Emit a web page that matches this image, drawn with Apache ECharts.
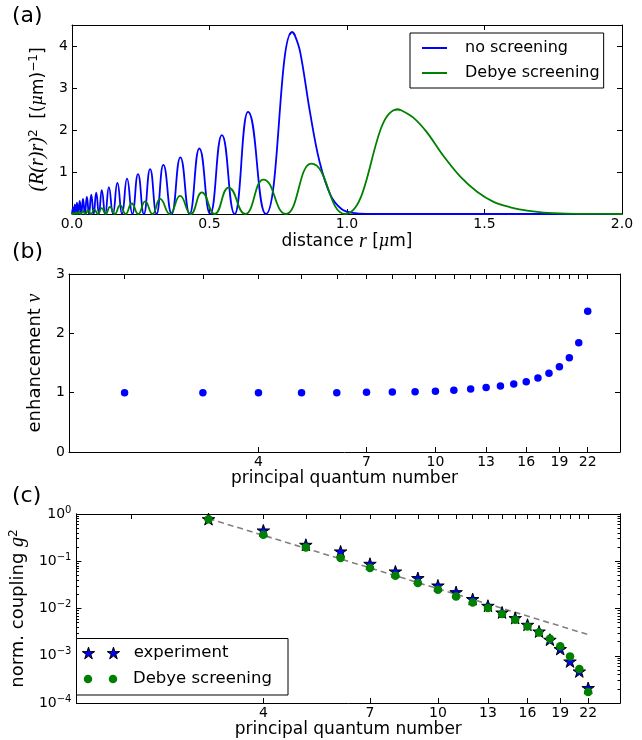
<!DOCTYPE html>
<html>
<head>
<meta charset="utf-8">
<script src="https://cdn.jsdelivr.net/npm/echarts@6.0.0/dist/echarts.min.js"></script>
<style>
html,body{margin:0;padding:0;background:#ffffff;}
#chart{width:642px;height:740px;}
</style>
</head>
<body>
<div id="chart"></div>
<script>
// ---------------- Panel (a): (R(r) r)^2 vs distance r [um] ----------------
// oscillating part: alternating nodes (0) and maxima
const noScreeningLobes = [
  [0,0],[0.004,0.15],[0.0066,0],[0.010,0.22],[0.0137,0],[0.018,0.27],[0.0227,0],
  [0.028,0.31],[0.0337,0],[0.040,0.36],[0.0467,0],[0.054,0.41],[0.0618,0],
  [0.070,0.46],[0.079,0],[0.088,0.51],[0.098,0],[0.108,0.57],[0.121,0],
  [0.134,0.64],[0.149,0],[0.165,0.74],[0.182,0],[0.200,0.84],[0.2195,0],
  [0.240,0.95],[0.2616,0],[0.284,1.07],[0.3075,0],[0.332,1.17],[0.3624,0],
  [0.394,1.35],[0.4277,0],[0.463,1.56],[0.5027,0],[0.545,1.88],[0.5914,0],
  [0.640,2.43],[0.705,0],[0.800,4.33],[0.81,4.26]
];
// outer tail, starting just before the last maximum
const noScreeningTail = [
  [0.79,4.26],[0.800,4.33],[0.81,4.26],[0.83,3.85],[0.866,2.4],[0.90,1.25],[0.94,0.45],
  [0.98,0.12],[1.02,0.025],[1.08,0.003],[1.2,0],[2.0,0]
];
const debyeLobes = [
  [0,0],[0.0012,0.01],[0.003,0],[0.0056,0.025],[0.0091,0],[0.0135,0.04],[0.0188,0],
  [0.025,0.055],[0.032,0],[0.040,0.07],[0.049,0],[0.0585,0.09],[0.069,0],
  [0.081,0.11],[0.094,0],[0.108,0.14],[0.1225,0],[0.138,0.17],[0.156,0],
  [0.175,0.21],[0.195,0],[0.217,0.25],[0.241,0],[0.266,0.30],[0.293,0],
  [0.320,0.36],[0.356,0],[0.393,0.43],[0.432,0],[0.472,0.515],[0.519,0],
  [0.569,0.63],[0.630,0],[0.696,0.82],[0.778,0],[0.870,1.20],[0.993,0],[1.184,2.49],[1.194,2.48]
];
const debyeTail = [
  [1.174,2.48],[1.184,2.49],[1.194,2.48],[1.24,2.30],[1.29,1.95],[1.351,1.38],[1.412,0.89],
  [1.473,0.53],[1.533,0.29],[1.594,0.16],[1.655,0.08],[1.715,0.035],[1.8,0.01],[1.9,0.002],[2.0,0]
];

// ---------------- Panel (b): enhancement vs principal quantum number ----------------
const nB = [2,3,4,5,6,7,8,9,10,11,12,13,14,15,16,17,18,19,20,21,22];
const enhancement = [1.00,1.00,1.00,1.00,1.00,1.005,1.01,1.015,1.025,1.04,1.06,1.085,1.113,1.147,1.186,1.249,1.328,1.435,1.588,1.842,2.373];

// ---------------- Panel (c): normalised coupling g^2 ----------------
const nC = [3,4,5,6,7,8,9,10,11,12,13,14,15,16,17,18,19,20,21,22];
const gExperiment = [0.78,0.45,0.224,0.162,0.0887,0.061,0.0442,0.0308,0.0223,0.0159,0.01146,0.00826,0.0063,0.00454,0.00327,0.00219,0.00139,0.00076,0.000467,0.000208];
const gDebye = [0.77,0.365,0.196,0.117,0.072,0.0494,0.0347,0.025,0.018,0.01346,0.01025,0.00765,0.0058,0.00418,0.00312,0.0023,0.00158,0.00097,0.000525,0.000171];
const scalingN = [3, 22];
const scalingG = [0.8, 0.0028];

// tick values
const nTickLabels = [4,7,10,13,16,19,22];
const nTopTicks = [2,3,4,5,6,7,8,9,10,11,12,13,14,15,16,17,18,19,20,21,22];
const gMinorTicks = [];
[0.0001,0.001,0.01,0.1].forEach(function(d){ for (let m = 2; m <= 9; m++) gMinorTicks.push(+(m*d).toPrecision(3)); });

// ---------------- helpers ----------------
const FONT = 'DejaVu Sans';
const BLUE = '#0000ff', GREEN = '#008000', BLACK = '#000000';
const STAR = 'path://M100,0L122.45,69.1L195.1,69.1L136.33,111.8L158.8,180.9L100,138.2L41.2,180.9L63.67,111.8L4.9,69.1L77.55,69.1Z';
const STARS2 = 'path://M100,0L122.45,69.1L195.1,69.1L136.33,111.8L158.8,180.9L100,138.2L41.2,180.9L63.67,111.8L4.9,69.1L77.55,69.1Z' +
  'M486,0L508.45,69.1L581.1,69.1L522.33,111.8L544.8,180.9L486,138.2L427.2,180.9L449.67,111.8L390.9,69.1L463.55,69.1Z';
const CIRCLES2 = 'path://M0,100A100,100,0,1,1,200,100A100,100,0,1,1,0,100ZM588,100A100,100,0,1,1,788,100A100,100,0,1,1,588,100Z';

function clean(o) {
  if (Array.isArray(o)) return o.map(clean);
  if (o && typeof o === 'object') {
    const r = {};
    Object.keys(o).forEach(function(k){ if (o[k] !== undefined) r[k] = clean(o[k]); });
    return r;
  }
  return o;
}
function axis(o) {
  return clean({
    gridIndex: o.grid, type: o.type || 'value', position: o.pos,
    min: o.min, max: o.max, interval: o.interval, logBase: o.type === 'log' ? 10 : undefined,
    axisLine: {show: true, onZero: false, lineStyle: {color: BLACK, width: 1}},
    axisTick: {show: o.tickShow !== false, inside: true, length: o.tickLen || 5, customValues: o.ticks,
               lineStyle: {color: BLACK, width: 1}},
    axisLabel: {show: !!o.labels, customValues: o.labelValues, color: BLACK, fontSize: 14, fontFamily: FONT,
                margin: o.margin == null ? 4 : o.margin, formatter: o.fmt, rich: o.rich},
    splitLine: {show: false},
    name: o.name, nameLocation: o.name ? 'middle' : undefined, nameGap: o.nameGap, nameTextStyle: o.nameStyle
  });
}
const mathRich = {
  i: {fontFamily: 'Liberation Serif', fontStyle: 'italic', fontSize: 20, color: BLACK},
  mu: {fontFamily: 'DejaVu Serif', fontStyle: 'italic', fontSize: 16, color: BLACK},
  s: {fontFamily: FONT, fontSize: 12, lineHeight: 12, verticalAlign: 'top', color: BLACK}
};
function nameStyle(size) {
  return {fontFamily: FONT, fontSize: size, color: BLACK, rich: mathRich};
}
const supRich = {
  b: {fontFamily: FONT, fontSize: 14, lineHeight: 18, color: BLACK},
  e: {fontFamily: FONT, fontSize: 10, lineHeight: 10, verticalAlign: 'top', color: BLACK}
};

const chart = echarts.init(document.getElementById('chart'), null, {renderer: 'canvas'});

const option = {
  animation: false,
  backgroundColor: '#ffffff',
  grid: [
    {left: 72, top: 25, width: 550, height: 189},
    {left: 69, top: 274, width: 551, height: 178},
    {left: 68, top: 514, width: 552, height: 189}
  ],
  xAxis: [
    axis({grid: 0, pos: 'bottom', min: 0, max: 2, interval: 0.5, labels: true, margin: 3,
          fmt: function(v){ return v.toFixed(1); },
          name: 'distance {i|r} [{mu|μ}m]', nameGap: 17, nameStyle: nameStyle(17)}),
    axis({grid: 0, pos: 'top', min: 0, max: 2, interval: 0.5}),
    axis({grid: 1, type: 'log', pos: 'bottom', min: 1.5, max: 26, labels: true, margin: 3,
          ticks: nTickLabels, labelValues: nTickLabels,
          name: 'principal quantum number', nameGap: 18, nameStyle: nameStyle(17)}),
    axis({grid: 1, type: 'log', pos: 'top', min: 1.5, max: 26, ticks: nTopTicks}),
    axis({grid: 2, type: 'log', pos: 'bottom', min: 1.5, max: 26, labels: true, margin: 3,
          ticks: nTickLabels, labelValues: nTickLabels,
          name: 'principal quantum number', nameGap: 18, nameStyle: nameStyle(17)}),
    axis({grid: 2, type: 'log', pos: 'top', min: 1.5, max: 26, ticks: nTopTicks})
  ],
  yAxis: [
    axis({grid: 0, pos: 'left', min: 0, max: 4.5, interval: 1, labels: true, margin: 4,
          fmt: function(v){ return (v === 0 || v % 1 !== 0) ? '' : String(v); },
          name: '{i|(R(r)r)}{s|2}  [({mu|μ}m){s|−1}]', nameGap: 13, nameStyle: nameStyle(17)}),
    axis({grid: 0, pos: 'right', min: 0, max: 4.5, interval: 1}),
    axis({grid: 1, pos: 'left', min: 0, max: 3, interval: 1, labels: true, margin: 4,
          name: 'enhancement {i|ν}', nameGap: 6, nameStyle: nameStyle(18)}),
    axis({grid: 1, pos: 'right', min: 0, max: 3, interval: 1}),
    axis({grid: 2, type: 'log', pos: 'left', min: 0.0001, max: 1, labels: true, margin: 5,
          fmt: function(v){ const e = Math.round(Math.log10(v)); return '{b|10}{e|' + (e < 0 ? '−' + (-e) : e) + '}'; },
          rich: supRich,
          name: 'norm. coupling {i|g}{s|2}', nameGap: 33, nameStyle: nameStyle(18)}),
    axis({grid: 2, type: 'log', pos: 'right', min: 0.0001, max: 1}),
    axis({grid: 2, type: 'log', pos: 'left', min: 0.0001, max: 1, tickLen: 2.5, ticks: gMinorTicks}),
    axis({grid: 2, type: 'log', pos: 'right', min: 0.0001, max: 1, tickLen: 2.5, ticks: gMinorTicks})
  ],
  legend: [
    {data: [{name: 'no screening', icon: 'rect'}, {name: 'Debye screening', icon: 'rect'}],
     orient: 'vertical', left: 410, top: 33,
     padding: [5, 4, 5, 12], itemGap: 5, itemWidth: 25, itemHeight: 2,
     backgroundColor: '#ffffff', borderColor: BLACK, borderWidth: 1, borderRadius: 0, selectedMode: false,
     textStyle: {fontFamily: FONT, fontSize: 16, color: BLACK, lineHeight: 20, padding: [0, 0, 0, 13]}},
    {data: [{name: 'experiment', icon: STARS2}], orient: 'vertical', left: 81.85, top: 643, padding: 0,
     itemWidth: 37.3, itemHeight: 11.7, selectedMode: false,
     itemStyle: {borderColor: BLACK, borderWidth: 1, opacity: 1},
     textStyle: {fontFamily: FONT, fontSize: 16.5, color: BLACK, lineHeight: 20, padding: [0, 0, 0, 9]}},
    {data: [{name: 'Debye screening', icon: CIRCLES2}], orient: 'vertical', left: 83.75, top: 669, padding: 0,
     itemWidth: 33.5, itemHeight: 8.5, selectedMode: false,
     itemStyle: {color: GREEN, borderWidth: 0, opacity: 1},
     textStyle: {fontFamily: FONT, fontSize: 16.5, color: BLACK, lineHeight: 20, padding: [0, 0, 0, 10.75]}}
  ],
  graphic: [
    {type: 'text', left: 12, top: 5, style: {text: '(a)', font: '22px "DejaVu Sans"', fill: BLACK}},
    {type: 'text', left: 12, top: 241, style: {text: '(b)', font: '22px "DejaVu Sans"', fill: BLACK}},
    {type: 'text', left: 12, top: 485, style: {text: '(c)', font: '22px "DejaVu Sans"', fill: BLACK}},
    {type: 'rect', z: 3, shape: {x: 76.5, y: 638.5, width: 211.5, height: 56.5},
     style: {fill: '#ffffff', stroke: BLACK, lineWidth: 1}}
  ],
  series: [
    {name: 'no screening', type: 'line', xAxisIndex: 0, yAxisIndex: 0, data: noScreeningLobes,
     smooth: 0.5, smoothMonotone: 'x', symbol: 'none', lineStyle: {color: BLUE, width: 1.8}, itemStyle: {color: BLUE}},
    {name: 'no screening', type: 'line', xAxisIndex: 0, yAxisIndex: 0, data: noScreeningTail,
     smooth: 0.35, symbol: 'none', lineStyle: {color: BLUE, width: 1.8}, itemStyle: {color: BLUE}},
    {name: 'Debye screening', type: 'line', xAxisIndex: 0, yAxisIndex: 0, data: debyeLobes,
     smooth: 0.5, smoothMonotone: 'x', symbol: 'none', lineStyle: {color: GREEN, width: 1.8}, itemStyle: {color: GREEN}},
    {name: 'Debye screening', type: 'line', xAxisIndex: 0, yAxisIndex: 0, data: debyeTail,
     smooth: 0.35, symbol: 'none', lineStyle: {color: GREEN, width: 1.8}, itemStyle: {color: GREEN}},
    {type: 'scatter', xAxisIndex: 2, yAxisIndex: 2, symbol: 'circle', symbolSize: 7.5,
     data: nB.map(function(n, i){ return [n, enhancement[i]]; }), itemStyle: {color: BLUE, opacity: 1}},
    {type: 'line', xAxisIndex: 4, yAxisIndex: 4, symbol: 'none', z: 1,
     data: scalingN.map(function(n, i){ return [n, scalingG[i]]; }),
     lineStyle: {color: '#808080', width: 1.6, type: [6, 4]}},
    {name: 'experiment', type: 'scatter', xAxisIndex: 4, yAxisIndex: 4, symbol: STAR, symbolSize: 12.5,
     symbolKeepAspect: true, data: nC.map(function(n, i){ return [n, gExperiment[i]]; }),
     itemStyle: {color: BLUE, borderColor: BLACK, borderWidth: 1, opacity: 1}},
    {name: 'Debye screening', type: 'scatter', xAxisIndex: 4, yAxisIndex: 4, symbol: 'circle', symbolSize: 8.5,
     data: nC.map(function(n, i){ return [n, gDebye[i]]; }), itemStyle: {color: GREEN, opacity: 1}}
  ]
};
chart.setOption(option);
</script>
</body>
</html>
